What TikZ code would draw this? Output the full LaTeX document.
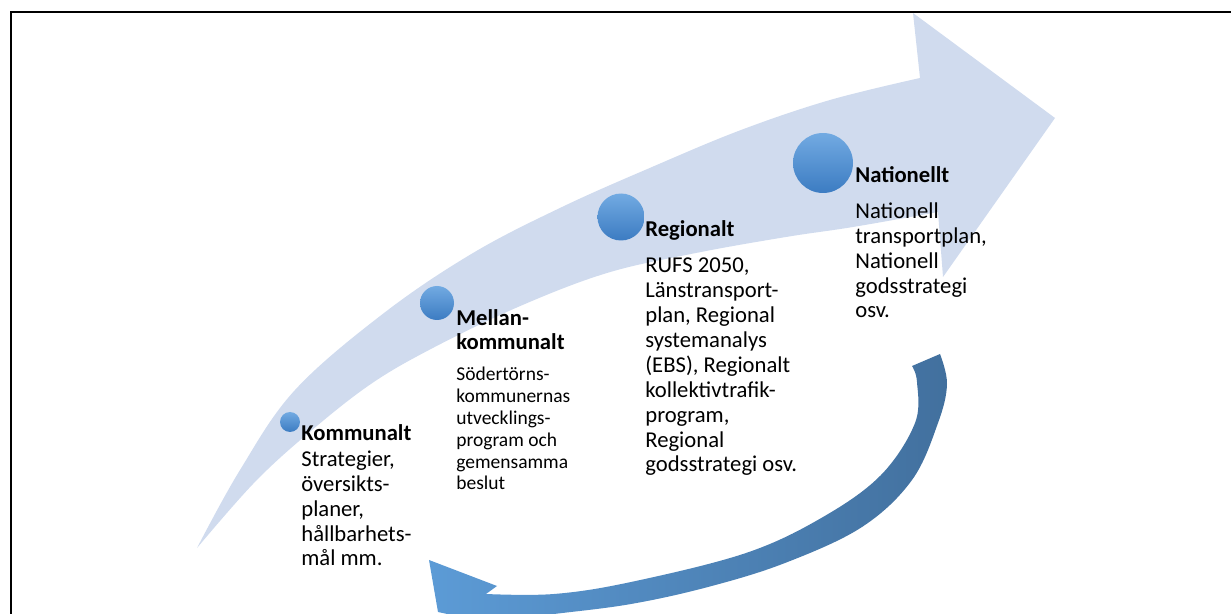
\documentclass[tikz,border=0pt]{standalone}
\usepackage{fontspec}
\setmainfont{Carlito}
\definecolor{bandblue}{RGB}{208,219,238}
\definecolor{ballhi}{RGB}{114,170,226}
\definecolor{balllo}{RGB}{60,124,194}
\definecolor{loopdark}{RGB}{66,112,158}
\definecolor{looplight}{RGB}{92,155,214}

\begin{document}
\begin{tikzpicture}[
  x=0.02cm, y=-0.02cm,
  dot/.style={circle, inner sep=0pt, top color=ballhi, bottom color=balllo},
  lvl/.style={anchor=base west, inner sep=0pt, align=left,
              font=\fontsize{12.9}{14.2}\selectfont\bfseries},
  desc/.style={anchor=base west, inner sep=0pt, align=left,
               font=\fontsize{12.9}{14.2}\selectfont},
  smalldesc/.style={desc, font=\fontsize{11.1}{12.5}\selectfont}
]
  \clip (0,0) rectangle (1231,614);

  % Frame (only top and left edges are in view)
  \draw[line width=1.6pt] (11,620) -- (11,12) -- (1240,12);

  % Big rising arrow
  \fill[bandblue] plot[smooth, tension=0.6] coordinates
      {(197,548) (240,470) (295,390) (384,313) (473,253) (562,207)
       (652,167) (741,130) (830,100) (920,78)}
    -- (913,13) -- (1055,118) -- (943,277)
    -- plot[smooth, tension=0.6] coordinates
      {(938,212) (853,227) (786,237) (696,253) (607,273) (518,307)
       (429,350) (368,386) (305,436) (253,484) (197,548)}
    -- cycle;

  % Return arrow
  \shade[left color=looplight, right color=loopdark]
    plot[smooth, tension=0.6] coordinates
      {(940,354) (947,384) (938,423) (912,480) (862,527) (785,563)
       (708,587) (631,604) (554,614) (484,622)}
    -- (438,612) -- (429,560) -- (497,586)
    -- plot[smooth, tension=0.6] coordinates
      {(486,594) (554,594) (631,582) (746,553) (823,517) (881,475)
       (915,423) (917,382) (912,366)}
    -- cycle;

  % Levels
  \node[dot, minimum size=0.40cm] (komdot) at (290,422) {};
  \node[dot, minimum size=0.68cm] (meldot) at (437,303) {};
  \node[dot, minimum size=0.94cm] (regdot) at (621,217) {};
  \node[dot, minimum size=1.20cm] (natdot) at (823,163) {};

  % texts sit on the baseline of their last line
  \node[lvl] (komhead) at (301,441) {Kommunalt};
  \node[desc] (komtext) at (301,566)
    {Strategier,\\översikts-\\planer,\\hållbarhets-\\mål mm.};

  \node[lvl] (melhead) at (456,350) {Mellan-\\kommunalt};
  \node[smalldesc] (meltext) at (456,490)
    {Södertörns-\\kommunernas\\utvecklings-\\program och\\gemensamma\\beslut};

  \node[lvl] (reghead) at (645,237) {Regionalt};
  \node[desc] (regtext) at (645,472)
    {RUFS 2050,\\Länstransport-\\plan, Regional\\systemanalys\\(EBS), Regionalt\\kollektivtrafik-\\program,\\Regional\\godsstrategi osv.};

  \node[lvl] (nathead) at (855,183) {Nationellt};
  \node[desc] (nattext) at (855,318)
    {Nationell\\transportplan,\\Nationell\\godsstrategi\\osv.};
\end{tikzpicture}
\end{document}
